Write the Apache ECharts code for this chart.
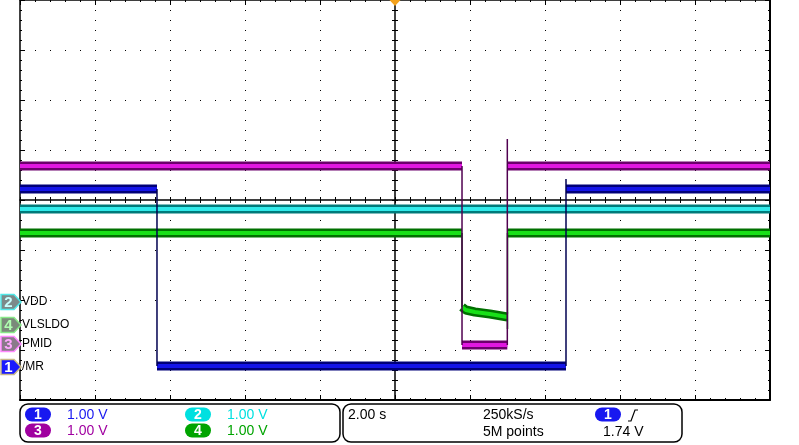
<!DOCTYPE html>
<html>
<head>
<meta charset="utf-8">
<script src="https://cdn.jsdelivr.net/npm/echarts@6/dist/echarts.min.js"></script>
<style>
  html, body { margin: 0; padding: 0; background: #fff; }
  #chart { width: 799px; height: 445px; }
</style>
</head>
<body>
<div id="chart"></div>
<script>
// time base: 2 s/div, 10 div, trigger at 0
const timeMin = -10, timeMax = 10, timeDiv = 2;
// vertical: 8 div, values drawn in divisions from centre
const divMin = -4, divMax = 4;

// channels in the order of the labels at the left
const chNumbers = [2, 4, 3, 1];
const chNames = ['VDD', 'VLSLDO', 'PMID', '/MR'];
const chScales = [1.0, 1.0, 1.0, 1.0];           // V/div
const chGround = [-2.04, -2.5, -2.88, -3.34];    // ground marker, div

// traces (s, V)
const vddTime = [-10, 10];
const vddVolt = [1.86, 1.86];
const ldoTime = [-10, 1.787, 1.787, 1.89, 2.13, 2.53, 3.0, 3.0, 3.0, 10];
const ldoVolt = [1.84, 1.84, 0.36, 0.30, 0.26, 0.22, 0.16, -0.08, 1.84, 1.84];
const pmidTime = [-10, 1.787, 1.787, 2.995, 2.995, 2.995, 10];
const pmidVolt = [3.56, 3.56, -0.02, -0.02, 4.1, 3.56, 3.56];
const mrTime = [-10, -6.347, -6.347, 4.56, 4.56, 4.56, 10];
const mrVolt = [3.56, 3.56, 0.02, 0.02, 3.76, 3.56, 3.56];

// readout panel
const scaleText = ['1.00 V', '1.00 V', '1.00 V', '1.00 V'];  // ch 1..4
const timebaseText = '2.00 s';
const sampleRateText = '250kS/s';
const recordText = '5M points';
const trigSource = 1;
const trigLevelText = '1.74 V';

const chColor = { 1: '#1818f0', 2: '#00e0e0', 3: '#a000a0', 4: '#00a400' };
const traceDark = { 1: '#000078', 2: '#007a7a', 3: '#6c006c', 4: '#007000' };
const traceBright = { 1: '#1414e8', 2: '#30eaea', 3: '#e018e0', 4: '#18e018' };
const edgeColor = { 1: '#000050', 2: '#005050', 3: '#500050', 4: '#005a00' };

const traces = [
  { ch: 2, t: vddTime, v: vddVolt },
  { ch: 4, t: ldoTime, v: ldoVolt },
  { ch: 3, t: pmidTime, v: pmidVolt },
  { ch: 1, t: mrTime, v: mrVolt }
];

const chart = echarts.init(document.getElementById('chart'));

const toDiv = (ch, v) => {
  const i = chNumbers.indexOf(ch);
  return chGround[i] + v / chScales[i];
};

// flat parts of a trace, broken where it jumps
const bandData = (tr) => {
  const out = [];
  let seg = [];
  for (let i = 0; i < tr.t.length; i++) {
    if (i > 0 && tr.t[i] === tr.t[i - 1]) {
      if (seg.length > 1) out.push(...seg, [tr.t[i], '-']);
      seg = [];
    }
    seg.push([tr.t[i], toDiv(tr.ch, tr.v[i])]);
  }
  if (seg.length > 1) out.push(...seg);
  return out;
};

// the jumps only (thin vertical lines)
const edgeData = (tr) => {
  const out = [];
  for (let i = 1; i < tr.t.length; i++) {
    if (tr.t[i] === tr.t[i - 1]) {
      out.push([tr.t[i - 1], toDiv(tr.ch, tr.v[i - 1])], [tr.t[i], toDiv(tr.ch, tr.v[i])], [tr.t[i], '-']);
    }
  }
  return out;
};

const lineBase = { type: 'line', showSymbol: false, symbol: 'none', silent: true, xAxisIndex: 0, yAxisIndex: 0 };
const series = [];
traces.forEach(tr => {
  series.push({ ...lineBase, data: bandData(tr), lineStyle: { color: traceDark[tr.ch], width: 9, cap: 'butt' }, z: 2 });
  series.push({ ...lineBase, data: bandData(tr), lineStyle: { color: traceBright[tr.ch], width: 4, cap: 'butt' }, z: 3 });
});
traces.forEach(tr => {
  series.push({ ...lineBase, data: edgeData(tr), lineStyle: { color: edgeColor[tr.ch], width: 1.5 }, z: 4 });
});
// trigger position marker
series[0].markPoint = {
  symbol: 'path://M0,0L12,0L6,7Z',
  symbolSize: [11, 6],
  symbolOffset: [0, 3],
  itemStyle: { color: '#f4a21c' },
  label: { show: false },
  data: [{ coord: [0, divMax] }]
};

const black = { color: '#000' };
const mkX = (position, onZero, lineW, tickLen, inside, split) => ({
  type: 'value', min: timeMin, max: timeMax, interval: timeDiv, position,
  axisLine: { show: lineW > 0, onZero, onZeroAxisIndex: 0, lineStyle: { ...black, width: lineW } },
  axisTick: { show: true, inside, length: tickLen, lineStyle: black },
  minorTick: { show: true, splitNumber: 5, length: tickLen === 5 ? 2 : tickLen, lineStyle: black },
  axisLabel: { show: false },
  splitLine: { show: split, lineStyle: { color: '#000', width: 1, type: [1, 9] } }
});
const mkY = (position, onZero, lineW, tickLen, inside, split) => ({
  type: 'value', min: divMin, max: divMax, interval: 1, position,
  axisLine: { show: lineW > 0, onZero, onZeroAxisIndex: 0, lineStyle: { ...black, width: lineW } },
  axisTick: { show: true, inside, length: tickLen, lineStyle: black },
  minorTick: { show: true, splitNumber: 5, length: tickLen === 5 ? 2 : tickLen, lineStyle: black },
  axisLabel: { show: false },
  splitLine: { show: split, lineStyle: { color: '#000', width: 1, type: [1, 14] } }
});

chart.setOption({
  animation: false,
  backgroundColor: '#fff',
  grid: { left: 20, top: 0, width: 750, height: 400, containLabel: false },
  xAxis: [
    mkX('bottom', false, 2, 5, true, true),
    mkX('top', false, 1.5, 5, true, false),
    mkX('bottom', true, 1.5, 3, false, false),
    mkX('top', true, 0, 3, false, false)
  ],
  yAxis: [
    mkY('left', false, 1.5, 5, true, true),
    mkY('right', false, 2, 5, true, false),
    mkY('left', true, 1.5, 3, false, false),
    mkY('right', true, 0, 3, false, false)
  ],
  series
});

// channel ground markers + names on the left edge
const markFill = { 1: '#1a1aff', 2: '#7c8a8a', 3: '#8a7a8a', 4: '#7a8a7a' };
const markStroke = { 1: '#c8b888', 2: '#50e8e8', 3: '#ff88ff', 4: '#88e888' };
const markDigit = { 1: '#ffffff', 2: '#c8ffff', 3: '#ffa8ff', 4: '#b0ffb0' };
const font = '"Liberation Sans", Arial, sans-serif';
const graphic = [];
chNumbers.forEach((ch, i) => {
  const p = chart.convertToPixel({ xAxisIndex: 0, yAxisIndex: 0 }, [timeMin, chGround[i]]);
  const y = p[1];
  graphic.push({
    type: 'polygon', z: 10,
    shape: { points: [[1, y - 7.5], [14, y - 7.5], [21, y], [14, y + 7.5], [1, y + 7.5]] },
    style: { fill: markFill[ch], stroke: markStroke[ch], lineWidth: 1.5 }
  });
  graphic.push({
    type: 'text', z: 11, x: 8.5, y: y + 0.5,
    style: { text: String(ch), fill: markDigit[ch], font: 'bold 15px ' + font, align: 'center', verticalAlign: 'middle' }
  });
  graphic.push({
    type: 'text', z: 11, x: 22, y: y,
    style: { text: chNames[i], fill: '#000', font: '12px ' + font, align: 'left', verticalAlign: 'middle' }
  });
});

// readout panel
const oval = (x, yc, ch) => [
  { type: 'rect', shape: { x, y: yc - 7, width: 26, height: 14, r: 7 }, style: { fill: chColor[ch] } },
  { type: 'text', x: x + 13, y: yc + 0.5, style: { text: String(ch), fill: '#fff', font: 'bold 14px ' + font, align: 'center', verticalAlign: 'middle' } }
];
const txt = (x, y, s, color) => ({ type: 'text', x, y, style: { text: s, fill: color, font: '14px ' + font, align: 'left', verticalAlign: 'middle' } });
graphic.push(
  { type: 'rect', shape: { x: 20, y: 404, width: 320, height: 38, r: 8 }, style: { fill: 'none', stroke: '#000', lineWidth: 1.5 } },
  { type: 'rect', shape: { x: 343, y: 404, width: 339, height: 38, r: 8 }, style: { fill: 'none', stroke: '#000', lineWidth: 1.5 } }
);
const panelPos = { 1: [25, 414.5], 2: [185, 414.5], 3: [25, 430.5], 4: [185, 430.5] };
[1, 2, 3, 4].forEach(ch => {
  const [x, y] = panelPos[ch];
  graphic.push(...oval(x, y, ch));
  graphic.push(txt(x + 42, y + 0.5, scaleText[ch - 1], chColor[ch]));
});
graphic.push(
  txt(348, 415, timebaseText, '#000'),
  txt(483, 415, sampleRateText, '#000'),
  txt(483, 432, recordText, '#000'),
  ...oval(595, 414.5, trigSource),
  { type: 'polyline', shape: { points: [[628, 421], [631, 421], [635, 410], [638, 410]] }, style: { stroke: '#000', lineWidth: 1.2, fill: 'none' } },
  txt(603, 432, trigLevelText, '#000')
);
chart.setOption({ graphic });
</script>
</body>
</html>
